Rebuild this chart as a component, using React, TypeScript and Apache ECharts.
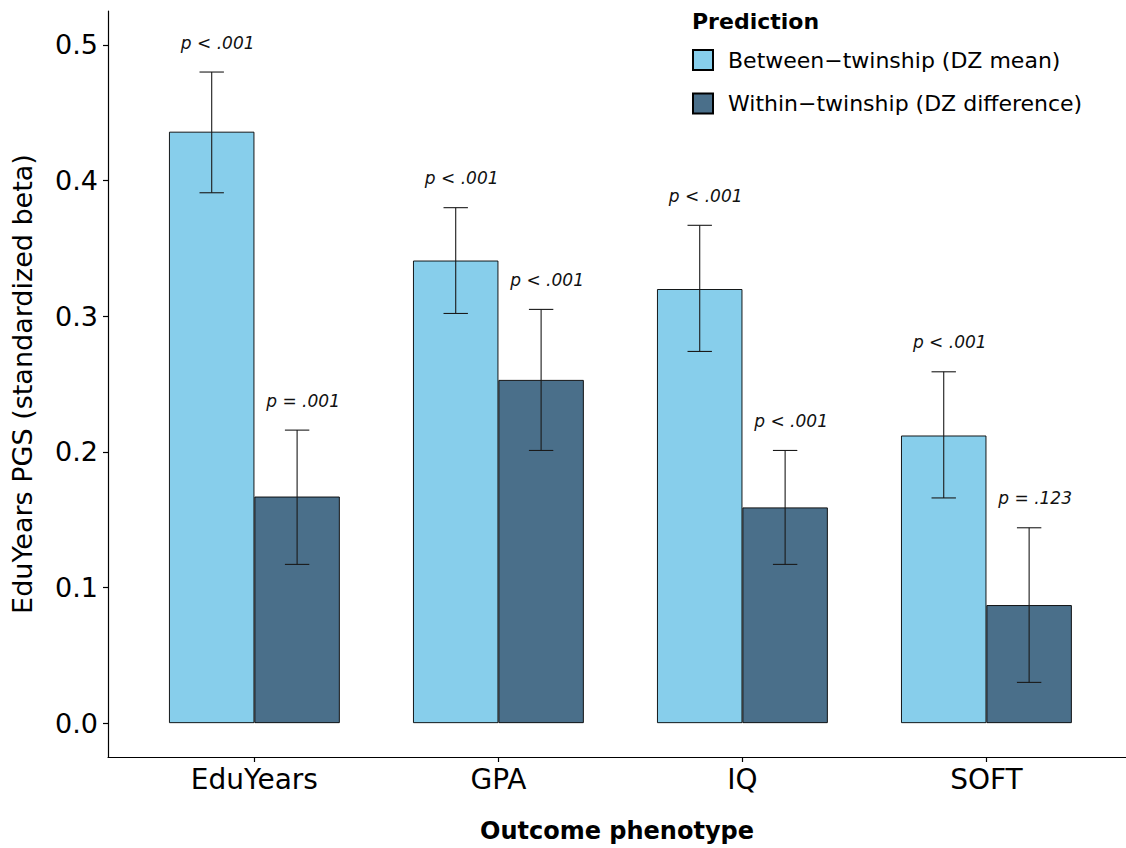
import React, { useEffect, useRef } from "react";
import * as echarts from "echarts";

const categories = ["EduYears", "GPA", "IQ", "SOFT"];
const seriesNames = ["Between\u2212twinship (DZ mean)", "Within\u2212twinship (DZ difference)"];

const betweenMean = [0.436, 0.341, 0.320, 0.212];
const betweenLow = [0.391, 0.302, 0.274, 0.166];
const betweenHigh = [0.480, 0.380, 0.367, 0.259];
const betweenP = ["p < .001", "p < .001", "p < .001", "p < .001"];

const withinMean = [0.167, 0.253, 0.159, 0.087];
const withinLow = [0.117, 0.201, 0.117, 0.030];
const withinHigh = [0.216, 0.305, 0.201, 0.144];
const withinP = ["p = .001", "p < .001", "p < .001", "p = .123"];

const yTicks = [0, 0.1, 0.2, 0.3, 0.4, 0.5];
const xTicks = [1, 2, 3, 4];

const FONT = "DejaVu Sans";
const BAR_FRAC = 0.35;
const LIGHT = "#87CEEB";
const DARK = "#4A6F8A";

function errorSeries(name: string, offset: number, low: number[], high: number[], labels: string[]) {
  return {
    type: "custom",
    name: name + " err",
    coordinateSystem: "cartesian2d",
    silent: true,
    clip: false,
    z: 5,
    encode: { x: 0, y: [1, 2] },
    data: categories.map((_, i) => [i + 1 + offset, low[i], high[i]]),
    renderItem: (params: any, api: any) => {
      const x = api.value(0);
      const lo = api.value(1);
      const hi = api.value(2);
      const top = api.coord([x, hi]);
      const bot = api.coord([x, lo]);
      const half = api.size([0.05, 0])[0];
      const ls = { stroke: "#1a1a1a", lineWidth: 1.1 };
      return {
        type: "group",
        children: [
          { type: "line", shape: { x1: top[0], y1: top[1], x2: bot[0], y2: bot[1] }, style: ls },
          { type: "line", shape: { x1: top[0] - half, y1: top[1], x2: top[0] + half, y2: top[1] }, style: ls },
          { type: "line", shape: { x1: bot[0] - half, y1: bot[1], x2: bot[0] + half, y2: bot[1] }, style: ls },
          {
            type: "text",
            x: top[0] + 6,
            y: top[1] - 29.5,
            style: {
              text: labels[params.dataIndex],
              fill: "#111",
              font: `italic 17px "${FONT}"`,
              align: "center",
              verticalAlign: "middle",
            },
          },
        ],
      };
    },
  };
}

export default function App() {
  const ref = useRef<HTMLDivElement>(null);
  useEffect(() => {
    document.body.style.margin = "0";
    if (!ref.current) return;
    const chart = echarts.init(ref.current, null, { renderer: "svg" });
    const barCommon = {
      type: "bar",
      barWidth: BAR_FRAC * 100 + "%",
      barGap: "0%",
      itemStyle: { borderColor: "#000", borderWidth: 0.9 },
    };
    chart.setOption({
      animation: false,
      backgroundColor: "#fff",
      textStyle: { fontFamily: FONT },
      title: {
        text: "Prediction",
        left: 692,
        top: 10,
        padding: 0,
        textStyle: { fontFamily: FONT, fontWeight: "bold", fontSize: 22, color: "#000" },
      },
      legend: {
        orient: "vertical",
        left: 692,
        top: 49,
        padding: 0,
        itemWidth: 20,
        itemHeight: 20,
        itemGap: 21.5,
        icon: "rect",
        data: seriesNames,
        textStyle: { fontFamily: FONT, fontSize: 22, color: "#000", padding: [0, 0, 0, 10] },
      },
      grid: { left: 108, right: 0, top: 11, bottom: 91 },
      xAxis: {
        type: "value",
        min: 0.4,
        max: 4.572,
        minInterval: 1,
        maxInterval: 1,
        splitLine: { show: false },
        axisLine: { show: true, onZero: false, lineStyle: { color: "#000", width: 1.2 } },
        axisTick: { show: true, length: 5, customValues: xTicks, lineStyle: { color: "#000", width: 1.2 } },
        axisLabel: {
          customValues: xTicks,
          margin: 8,
          fontSize: 28,
          fontFamily: FONT,
          color: "#000",
          formatter: (v: number) => (Number.isInteger(v) && v >= 1 && v <= 4 ? categories[v - 1] : ""),
        },
        name: "Outcome phenotype",
        nameLocation: "middle",
        nameGap: 62,
        nameTextStyle: { fontFamily: FONT, fontWeight: "bold", fontSize: 24, color: "#000" },
      },
      yAxis: {
        type: "value",
        min: -0.025,
        max: 0.525,
        minInterval: 0.1,
        maxInterval: 0.1,
        splitLine: { show: false },
        axisLine: { show: true, onZero: false, lineStyle: { color: "#000", width: 1.2 } },
        axisTick: { show: true, length: 5, customValues: yTicks, lineStyle: { color: "#000", width: 1.2 } },
        axisLabel: {
          customValues: yTicks,
          margin: 10,
          fontSize: 27,
          fontFamily: FONT,
          color: "#000",
          formatter: (v: number) => {
            const r = Math.round(v * 10) / 10;
            return Math.abs(r - v) < 1e-9 && r >= 0 ? r.toFixed(1) : "";
          },
        },
        name: "EduYears PGS (standardized beta)",
        nameLocation: "middle",
        nameGap: 72,
        nameTextStyle: { fontFamily: FONT, fontSize: 27, color: "#000" },
      },
      series: [
        {
          ...barCommon,
          name: seriesNames[0],
          color: LIGHT,
          itemStyle: { ...barCommon.itemStyle, color: LIGHT },
          data: categories.map((_, i) => [i + 1, betweenMean[i]]),
        },
        {
          ...barCommon,
          name: seriesNames[1],
          color: DARK,
          itemStyle: { ...barCommon.itemStyle, color: DARK },
          data: categories.map((_, i) => [i + 1, withinMean[i]]),
        },
        errorSeries(seriesNames[0], -BAR_FRAC / 2, betweenLow, betweenHigh, betweenP),
        errorSeries(seriesNames[1], BAR_FRAC / 2, withinLow, withinHigh, withinP),
      ],
    });
    return () => chart.dispose();
  }, []);
  return <div ref={ref} style={{ width: 1126, height: 848 }} />;
}
